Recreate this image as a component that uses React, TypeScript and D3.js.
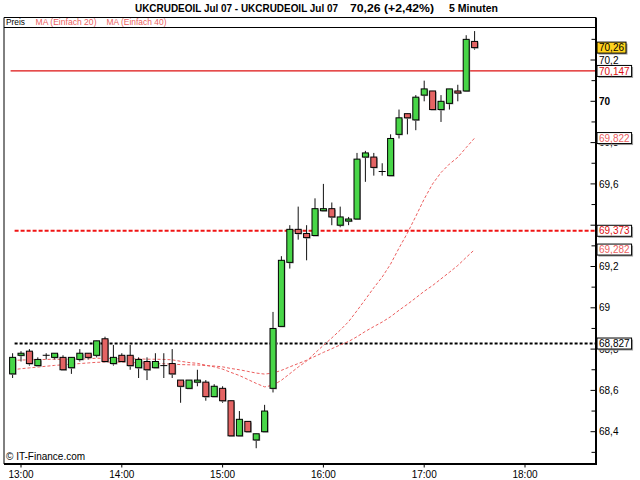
import React from "react";
import * as d3 from "d3";

// ---------- data ----------
const times = [
  "12:55", "13:00", "13:05", "13:10", "13:15", "13:20", "13:25", "13:30", "13:35", "13:40", "13:45", "13:50",
  "13:55", "14:00", "14:05", "14:10", "14:15", "14:20", "14:25", "14:30", "14:35", "14:40", "14:45", "14:50",
  "14:55", "15:00", "15:05", "15:10", "15:15", "15:20", "15:25", "15:30", "15:35", "15:40", "15:45", "15:50",
  "15:55", "16:00", "16:05", "16:10", "16:15", "16:20", "16:25", "16:30", "16:35", "16:40", "16:45", "16:50",
  "16:55", "17:00", "17:05", "17:10", "17:15", "17:20", "17:25", "17:30",
];
const opens = [
  68.68, 68.77, 68.79, 68.72, 68.77, 68.76, 68.76, 68.71, 68.75, 68.78, 68.77, 68.85,
  68.73, 68.77, 68.77, 68.71, 68.74, 68.71, 68.72, 68.73, 68.65, 68.61, 68.64, 68.64,
  68.57, 68.61, 68.55, 68.38, 68.45, 68.36, 68.40, 68.61, 68.91, 69.22, 69.38, 69.36,
  69.35, 69.47, 69.48, 69.40, 69.42, 69.43, 69.73, 69.73, 69.66, 69.64, 69.84, 69.94,
  69.91, 70.03, 70.05, 69.96, 69.99, 70.05, 70.05, 70.29,
];
const highs = [
  68.78, 68.79, 68.80, 68.76, 68.78, 68.78, 68.77, 68.76, 68.80, 68.78, 68.84, 68.86,
  68.82, 68.78, 68.82, 68.76, 68.76, 68.78, 68.78, 68.80, 68.65, 68.65, 68.70, 68.65,
  68.63, 68.62, 68.55, 68.50, 68.45, 68.39, 68.53, 68.98, 69.25, 69.40, 69.49, 69.40,
  69.53, 69.60, 69.51, 69.49, 69.44, 69.75, 69.76, 69.75, 69.70, 69.84, 69.96, 69.94,
  70.03, 70.10, 70.05, 70.03, 70.06, 70.08, 70.32, 70.34,
];
const lows = [
  68.66, 68.74, 68.72, 68.72, 68.75, 68.75, 68.70, 68.68, 68.74, 68.75, 68.76, 68.74,
  68.72, 68.74, 68.70, 68.66, 68.65, 68.71, 68.66, 68.66, 68.54, 68.61, 68.62, 68.55,
  68.57, 68.54, 68.38, 68.38, 68.40, 68.32, 68.40, 68.59, 68.91, 69.19, 69.33, 69.23,
  69.35, 69.47, 69.40, 69.39, 69.40, 69.43, 69.61, 69.64, 69.64, 69.64, 69.82, 69.84,
  69.86, 70.00, 69.96, 69.90, 69.96, 70.00, 70.05, 70.25,
];
const closes = [
  68.76, 68.78, 68.73, 68.75, 68.77, 68.78, 68.70, 68.76, 68.78, 68.76, 68.84, 68.74,
  68.76, 68.74, 68.72, 68.75, 68.70, 68.74, 68.72, 68.68, 68.62, 68.65, 68.65, 68.57,
  68.62, 68.55, 68.38, 68.46, 68.40, 68.39, 68.50, 68.90, 69.23, 69.38, 69.36, 69.34,
  69.48, 69.48, 69.44, 69.44, 69.43, 69.72, 69.75, 69.68, 69.66, 69.82, 69.92, 69.92,
  70.02, 70.06, 69.96, 70.00, 70.06, 70.04, 70.30, 70.26,
];
const ma20 = [
  68.745, 68.747, 68.748, 68.749, 68.750, 68.751, 68.750, 68.751, 68.752, 68.753, 68.756, 68.755,
  68.755, 68.754, 68.753, 68.753, 68.751, 68.751, 68.750, 68.748, 68.741, 68.735, 68.731, 68.722,
  68.714, 68.703, 68.687, 68.672, 68.653, 68.634, 68.617, 68.625, 68.649, 68.681, 68.713, 68.742,
  68.781, 68.818, 68.854, 68.892, 68.933, 68.986, 69.041, 69.097, 69.149, 69.212, 69.289, 69.362,
  69.443, 69.527, 69.600, 69.655, 69.696, 69.729, 69.776, 69.822,
];
const ma40 = [
  68.700, 68.705, 68.709, 68.713, 68.717, 68.721, 68.724, 68.727, 68.730, 68.733, 68.736, 68.737,
  68.737, 68.736, 68.735, 68.734, 68.732, 68.730, 68.729, 68.727, 68.725, 68.724, 68.723, 68.720,
  68.718, 68.714, 68.706, 68.700, 68.692, 68.684, 68.679, 68.684, 68.697, 68.714, 68.730, 68.746,
  68.765, 68.784, 68.802, 68.820, 68.837, 68.860, 68.886, 68.909, 68.931, 68.957, 68.988, 69.017,
  69.048, 69.080, 69.108, 69.140, 69.172, 69.205, 69.244, 69.282,
];
const hourTicks = ["13:00", "14:00", "15:00", "16:00", "17:00", "18:00"];
const priceTickTenths = [683, 684, 685, 686, 687, 688, 689, 690, 691, 692, 693, 694, 695, 696, 697, 698, 699, 700, 701, 702, 703];
// labels visible on the price axis (69,4 is fully hidden by the 69,373 box in the reference)
const priceLabelTenths = [684, 686, 688, 690, 692, 696, 698, 700, 702];
const resistance = 70.147;
const midLevel = 69.373;
const supportLevel = 68.827;
const titleParts = ["UKCRUDEOIL Jul 07 - UKCRUDEOIL Jul 07", "70,26 (+2,42%)", "5 Minuten"];
const legendItems = ["Preis", "MA (Einfach 20)", "MA (Einfach 40)"];
const copyright = "\u00A9 IT-Finance.com";

// ---------- styles ----------
const FONT = "'Liberation Sans', Arial, sans-serif";
const GREEN = "#48d648";
const RED = "#e46464";
const BRIGHT_RED = "#dd1010";
const MA_RED = "#ec5f5f";

const L = 4, R = 596, TOP = 17.5, SEP = 27.5, BOTTOM = 464;

const parse = d3.timeParse("%H:%M");
const fmtComma = (v: number, d: number) => v.toFixed(d).replace(".", ",");

export default function App() {
  const x = d3.scaleTime().domain([parse("13:00")!, parse("18:00")!]).range([21, 525]);
  const y = d3.scaleLinear().domain([68.4, 70]).range([431.7, 101.3]);
  const xs = times.map((t) => x(parse(t)!));
  const bodyW = 6;

  const line = (arr: number[]) =>
    d3.line<number>().x((_, i) => xs[i]).y((d) => y(d))(arr) || "";

  const last = closes[closes.length - 1];
  const boxes = [
    { v: last, label: fmtComma(last, 2), fill: "#ffd21e", color: "#000" },
    { v: resistance, label: fmtComma(resistance, 3), fill: "#fff", color: BRIGHT_RED },
    { v: ma20[ma20.length - 1], label: fmtComma(ma20[ma20.length - 1], 3), fill: "#fff", color: MA_RED },
    { v: midLevel, label: fmtComma(midLevel, 3), fill: "#fff", color: BRIGHT_RED },
    { v: ma40[ma40.length - 1], label: fmtComma(ma40[ma40.length - 1], 3), fill: "#fff", color: MA_RED },
    { v: supportLevel, label: fmtComma(supportLevel, 3), fill: "#fff", color: "#000" },
  ];

  const x0 = xs[0];

  return (
    <svg
      width={640}
      height={480}
      style={{ position: "absolute", left: 0, top: 0, background: "#fff" }}
      fontFamily={FONT}
    >
      <rect x={0} y={0} width={640} height={480} fill="#fff" />

      {/* title */}
      <g fontSize={10} fontWeight="bold" fill="#000">
        <text x={135} y={12} textLength={203} lengthAdjust="spacingAndGlyphs">{titleParts[0]}</text>
        <text x={350} y={12} textLength={84} lengthAdjust="spacingAndGlyphs">{titleParts[1]}</text>
        <text x={449} y={12} textLength={49} lengthAdjust="spacingAndGlyphs">{titleParts[2]}</text>
      </g>

      {/* frame */}
      <line x1={L} x2={R} y1={TOP} y2={TOP} stroke="#000" strokeWidth={1} />
      <line x1={L} x2={R} y1={SEP} y2={SEP} stroke="#000" strokeWidth={1} />
      <line x1={L} x2={L} y1={TOP} y2={BOTTOM} stroke="#000" strokeWidth={1} />

      {/* legend */}
      <g fontSize={9}>
        <text x={6} y={25} fill="#000" textLength={19} lengthAdjust="spacingAndGlyphs">{legendItems[0]}</text>
        <text x={35.5} y={25} fill={MA_RED} textLength={61} lengthAdjust="spacingAndGlyphs">{legendItems[1]}</text>
        <text x={106.5} y={25} fill={MA_RED} textLength={60} lengthAdjust="spacingAndGlyphs">{legendItems[2]}</text>
      </g>

      {/* reference lines */}
      <line x1={x0 - 2} x2={R - 1} y1={y(resistance)} y2={y(resistance)} stroke={BRIGHT_RED} strokeWidth={1.2} />
      <line x1={x0 + 2} x2={R - 1} y1={y(midLevel)} y2={y(midLevel)} stroke="#f01414" strokeWidth={2} strokeDasharray="4,2" />
      <line x1={x0 + 2} x2={R - 1} y1={y(supportLevel)} y2={y(supportLevel)} stroke="#000" strokeWidth={2} strokeDasharray="3,2" />

      {/* moving averages */}
      <path d={line(ma40)} fill="none" stroke={MA_RED} strokeWidth={1} strokeDasharray="3,2" />
      <path d={line(ma20)} fill="none" stroke={MA_RED} strokeWidth={1} strokeDasharray="3,2" />

      {/* candles */}
      {closes.map((c, i) => {
        const o = opens[i];
        const cx = xs[i];
        const up = c >= o;
        const top = y(Math.max(o, c));
        const bot = y(Math.min(o, c));
        return (
          <g key={times[i]}>
            <line x1={cx} x2={cx} y1={y(highs[i])} y2={y(lows[i])} stroke="#111" strokeWidth={1} />
            {o === c ? (
              <line x1={cx - 3.5} x2={cx + 3.5} y1={top} y2={top} stroke="#000" strokeWidth={1} />
            ) : (
              <>
                <rect x={cx - bodyW / 2 + 1} y={top + 1} width={bodyW} height={Math.max(bot - top, 1)} fill="#9a9a9a" />
                <rect
                  x={cx - bodyW / 2}
                  y={top}
                  width={bodyW}
                  height={Math.max(bot - top, 1)}
                  fill={up ? GREEN : RED}
                  stroke="#000"
                  strokeWidth={1}
                />
              </>
            )}
          </g>
        );
      })}

      {/* right axis */}
      {priceTickTenths.map((t) => {
        const v = t / 10;
        const yy = y(v);
        const major = t % 2 === 0;
        return (
          <g key={t}>
            <line x1={major ? 590.5 : 591.5} x2={R} y1={yy} y2={yy} stroke="#000" strokeWidth={1} />
            {priceLabelTenths.includes(t) ? (
              <text x={599} y={yy + 3.6} fontSize={10} fill="#000" fontWeight={t === 700 ? "bold" : "normal"}>
                {String(+v.toFixed(1)).replace(".", ",")}
              </text>
            ) : null}
          </g>
        );
      })}
      <line x1={R} x2={R} y1={TOP} y2={BOTTOM + 1} stroke="#000" strokeWidth={2} />

      {/* bottom axis */}
      <line x1={L} x2={R + 1} y1={BOTTOM} y2={BOTTOM} stroke="#000" strokeWidth={2} />
      {hourTicks.map((h) => {
        const xx = x(parse(h)!);
        return (
          <g key={h}>
            <line x1={xx} x2={xx} y1={BOTTOM} y2={BOTTOM + 3.5} stroke="#000" strokeWidth={1} />
            <text x={xx} y={478} fontSize={10} textAnchor="middle" fill="#000">{h}</text>
          </g>
        );
      })}

      {/* value boxes */}
      {boxes.map((b) => {
        const yy = y(b.v);
        const w = (b.label.length - 1) * 5.56 + 2.78 + 4;
        return (
          <g key={b.label}>
            <rect x={598.5} y={yy - 4} width={w} height={11} fill="#a0a0a0" />
            <rect x={597} y={yy - 5.5} width={w} height={11} fill={b.fill} stroke="#000" strokeWidth={1} />
            <text x={599} y={yy + 3.6} fontSize={10} fill={b.color}>{b.label}</text>
          </g>
        );
      })}

      {/* copyright */}
      <text x={6} y={459.5} fontSize={10} fill="#000">{copyright}</text>
    </svg>
  );
}
